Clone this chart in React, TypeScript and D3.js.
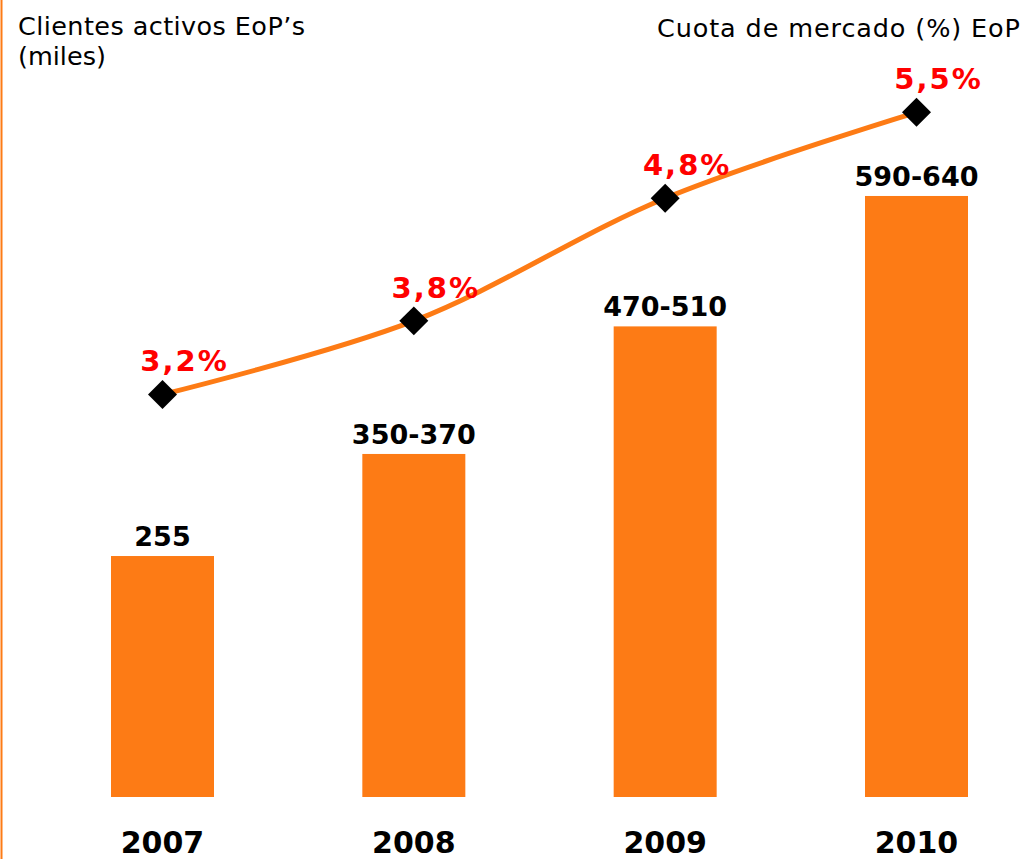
import React from "react";
import * as d3 from "d3";

const years = ["2007", "2008", "2009", "2010"];
const barValues = [255, 363, 498, 636];
const barLabels = ["255", "350-370", "470-510", "590-640"];
const shareValues = [3.2, 3.8, 4.8, 5.5];
const shareLabels = ["3,2%", "3,8%", "4,8%", "5,5%"];
const leftTitle = ["Clientes activos EoP\u2019s", "(miles)"];
const rightTitle = "Cuota de mercado (%) EoP";

const W = 1025;
const H = 859;
const ORANGE = "#FD7B15";
const FONT = "'DejaVu Sans', Verdana, sans-serif";

export default function App() {
  const x = d3.scalePoint<string>().domain(years).range([162.5, 916.5]);
  const yBar = d3.scaleLinear().domain([0, 700]).range([797, 135.5]);
  const yLine = d3.scaleLinear().domain([0, 6]).range([787, 51]);
  const barW = 103;

  const pts = years.map((yr, i) => [x(yr) as number, yLine(shareValues[i])] as [number, number]);
  const line = d3.line().curve(d3.curveCatmullRom.alpha(0.5))(pts) || "";
  const diamond = d3.symbol().type(d3.symbolSquare).size(420)() || "";

  return (
    <svg
      width={W}
      height={H}
      style={{ position: "absolute", left: 0, top: 0, display: "block", background: "#fff" }}
      fontFamily={FONT}
    >
      <rect x={0} y={0} width={W} height={H} fill="#fff" />
      <line x1={1.5} x2={1.5} y1={0} y2={H} stroke={ORANGE} strokeWidth={2} />

      <text fontSize={25.5} fill="#000">
        <tspan x={18} y={35} textLength={287} lengthAdjust="spacing">{leftTitle[0]}</tspan>
        <tspan x={18} y={65}>{leftTitle[1]}</tspan>
      </text>
      <text x={657} y={37} fontSize={25.5} fill="#000" textLength={363} lengthAdjust="spacing">
        {rightTitle}
      </text>

      {years.map((yr, i) => (
        <g key={yr}>
          <rect
            x={(x(yr) as number) - barW / 2}
            y={yBar(barValues[i])}
            width={barW}
            height={yBar(0) - yBar(barValues[i])}
            fill={ORANGE}
          />
          <text
            x={x(yr) as number}
            y={yBar(barValues[i]) - 10}
            textAnchor="middle"
            fontSize={27}
            fontWeight="bold"
            fill="#000"
          >
            {barLabels[i]}
          </text>
          <text
            x={x(yr) as number}
            y={853}
            textAnchor="middle"
            fontSize={30}
            fontWeight="bold"
            fill="#000"
          >
            {yr}
          </text>
        </g>
      ))}

      <path d={line} fill="none" stroke={ORANGE} strokeWidth={5} />

      {pts.map((p, i) => (
        <g key={years[i]}>
          <path d={diamond} transform={`translate(${p[0]},${p[1]}) rotate(45)`} fill="#000" />
          <text
            x={p[0] + 22}
            y={p[1] - 23}
            textAnchor="middle"
            fontSize={29}
            fontWeight="bold"
            fill="#FF0000"
            letterSpacing={2}
          >
            {shareLabels[i]}
          </text>
        </g>
      ))}
    </svg>
  );
}
